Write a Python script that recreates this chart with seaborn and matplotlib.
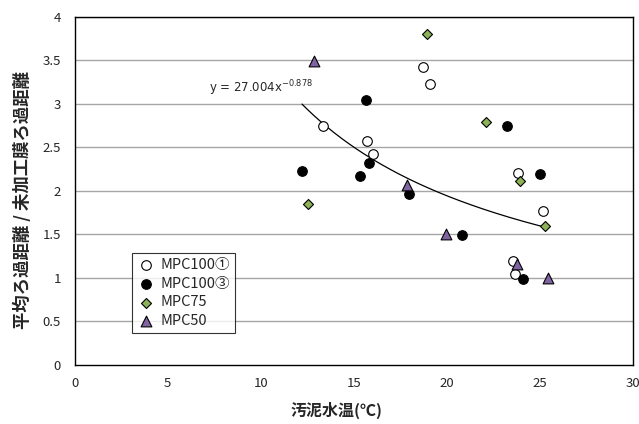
import matplotlib
matplotlib.use("Agg")
import matplotlib.pyplot as plt
import numpy as np
import pandas as pd
import seaborn as sns

# ---- data ----
mpc100_1_x = [13.37, 15.70, 16.05, 18.74, 19.10, 23.82, 25.16, 23.56, 23.69]
mpc100_1_y = [2.75, 2.57, 2.42, 3.43, 3.23, 2.21, 1.77, 1.20, 1.05]
mpc100_3_x = [15.66, 15.84, 12.22, 15.36, 23.24, 25.02, 17.99, 20.82, 24.09]
mpc100_3_y = [3.05, 2.32, 2.23, 2.17, 2.75, 2.20, 1.97, 1.49, 0.99]
mpc75_x = [18.96, 22.10, 23.96, 12.54, 25.28]
mpc75_y = [3.80, 2.79, 2.11, 1.85, 1.60]
mpc50_x = [12.85, 17.88, 19.98, 23.76, 25.45]
mpc50_y = [3.49, 2.07, 1.50, 1.16, 1.00]
series_names = ["MPC100①", "MPC100③", "MPC75", "MPC50"]
trend_a = 27.004
trend_b = -0.878
x_ticks = [0, 5, 10, 15, 20, 25, 30]
y_ticks = [0, 0.5, 1, 1.5, 2, 2.5, 3, 3.5, 4]

sns.set_theme(style="white")
plt.rcParams['font.family'] = ['Noto Sans CJK JP', 'DejaVu Sans']

fig = plt.figure(figsize=(6.39, 4.24), dpi=100)
ax = fig.add_axes([0.1169, 0.1392, 0.8732, 0.8207])

for yv in y_ticks[1:]:
    ax.axhline(yv, color="#a6a6a6", lw=1.0, zorder=0)

# trendline (power fit)
allx = mpc100_1_x + mpc100_3_x + mpc75_x + mpc50_x
xs = np.linspace(min(allx), max(allx), 200)
ax.plot(xs, trend_a * xs ** trend_b, color="black", lw=0.9, zorder=1)
ax.text(7.2, 3.18, "y = 27.004x$^{-0.878}$", fontsize=8.5, va="center",
        family=['DejaVu Sans'])

styles = [
    (mpc100_1_x, mpc100_1_y, "o", "white", 48),
    (mpc100_3_x, mpc100_3_y, "o", "black", 48),
    (mpc75_x, mpc75_y, "D", "#8db255", 26),
    (mpc50_x, mpc50_y, "^", "#8064a2", 60),
]
for (xv, yv, m, fc, s), name in zip(styles, series_names):
    df = pd.DataFrame({"x": xv, "y": yv})
    sns.scatterplot(data=df, x="x", y="y", marker=m, s=s, color=fc,
                    edgecolor="black", linewidth=0.8, ax=ax, label=name,
                    zorder=3)

ax.set_xlim(0, 30)
ax.set_ylim(0, 4)
ax.set_xticks(x_ticks)
ax.set_yticks(y_ticks)
ax.set_xticklabels([str(t) for t in x_ticks], fontsize=9.5)
ax.set_yticklabels(["0", "0.5", "1", "1.5", "2", "2.5", "3", "3.5", "4"], fontsize=9.5)
ax.tick_params(axis="x", direction="in", length=4, width=0.8, color="black", pad=9)
ax.tick_params(axis="y", length=0, pad=10)
for sp in ax.spines.values():
    sp.set_color("black")
    sp.set_linewidth(1.0)

ax.set_xlabel("汚泥水温(℃)", fontsize=11.5, fontweight="bold")
ax.set_ylabel("平均ろ過距離 / 未加工膜ろ過距離", fontsize=12.5, fontweight="bold")
ax.xaxis.set_label_coords(0.47, -0.105)
ax.yaxis.set_label_coords(-0.077, 0.474)

leg = ax.legend(loc="lower left", bbox_to_anchor=(0.102, 0.091), fontsize=10.5,
                frameon=True, fancybox=False, borderpad=0.35, labelspacing=0.33,
                handletextpad=0.3, handlelength=1.3, borderaxespad=0)
leg.get_frame().set_edgecolor("black")
leg.get_frame().set_linewidth(0.8)

fig.savefig("out.png", dpi=100)
